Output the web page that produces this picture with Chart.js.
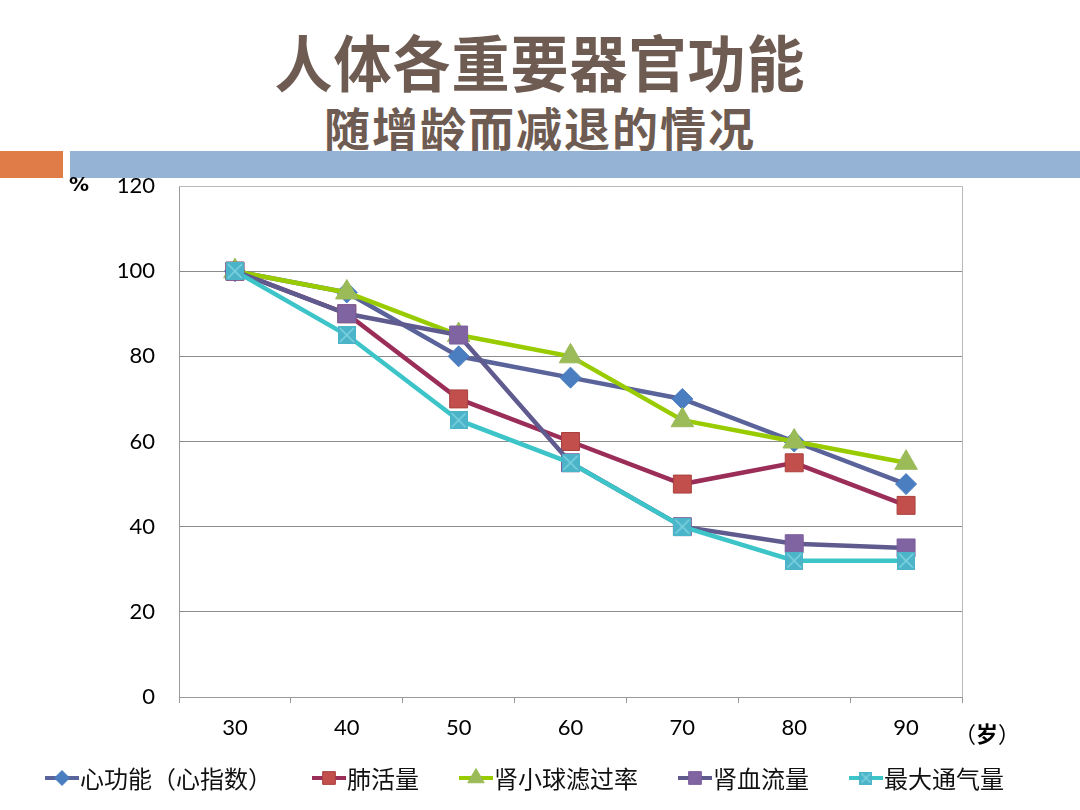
<!DOCTYPE html>
<html>
<head>
<meta charset="utf-8">
<script src="https://cdn.jsdelivr.net/npm/chart.js@4.4.1/dist/chart.umd.min.js"></script>
<style>
  body { margin: 0; background: #fff; width: 1080px; height: 810px; overflow: hidden; position: relative;
         font-family: "Noto Sans CJK SC", sans-serif; }
  .title { position: absolute; left: 0; width: 1080px; text-align: center; font-weight: bold; color: #6e5c53; }
  #t1 { top: 25px; font-size: 58px; line-height: 70px; letter-spacing: 1px; transform: scaleY(1.06); }
  #t2 { top: 98px; font-size: 46px; line-height: 56px; letter-spacing: 2px; }
  #barOrange { position: absolute; left: 0; top: 151px; width: 63px; height: 27px; background: #e07c47; }
  #barBlue { position: absolute; left: 70px; top: 151px; width: 1010px; height: 27px; background: #95b3d5; }
  #wrap { position: absolute; left: 0; top: 0; width: 1080px; height: 810px; }
</style>
</head>
<body>
<div class="title" id="t1">人体各重要器官功能</div>
<div class="title" id="t2">随增龄而减退的情况</div>
<div id="barOrange"></div>
<div id="barBlue"></div>
<div id="wrap"><canvas id="organChart" width="1080" height="810"></canvas></div>
<script>
// ages (x categories) and the % of function left
const ages = ['30', '40', '50', '60', '70', '80', '90'];
const seriesNames = ['心功能（心指数）', '肺活量', '肾小球滤过率', '肾血流量', '最大通气量'];
const heart     = [100, 95, 80, 75, 70, 60, 50];
const lung      = [100, 90, 70, 60, 50, 55, 45];
const glomer    = [100, 95, 85, 80, 65, 60, 55];
const renalFlow = [100, 90, 85, 55, 40, 36, 35];
const maxVent   = [100, 85, 65, 55, 40, 32, 32];

// cyan square with a light X, like the office-style marker
function crossSquare(size, fill, cross) {
  const c = document.createElement('canvas');
  c.width = size; c.height = size;
  const g = c.getContext('2d');
  g.fillStyle = fill;
  g.fillRect(0, 0, size, size);
  g.strokeStyle = cross;
  g.lineWidth = 1.5;
  g.beginPath();
  g.moveTo(2, 2); g.lineTo(size - 2, size - 2);
  g.moveTo(size - 2, 2); g.lineTo(2, size - 2);
  g.stroke();
  return c;
}
const ventMarker = crossSquare(18, '#4bb4c8', '#7fd3e0');
const ventMarkerSmall = crossSquare(13, '#4bb4c8', '#7fd3e0');

const styles = [
  { line: '#5a639a', fill: '#4a7ec0', border: '#4a7ec0', point: 'rectRot', r: 10.5, lr: 7.5 },
  { line: '#9b2d59', fill: '#c24f4c', border: '#a8403e', point: 'rect', r: 12.7, lr: 9 },
  { line: '#99cc00', fill: '#9bbb59', border: '#9bbb59', point: 'triangle', r: 13, lr: 9.5 },
  { line: '#5f5b8f', fill: '#8064a2', border: '#7a5d9c', point: 'rect', r: 12.7, lr: 9 },
  { line: '#3cc4c8', fill: '#4bb4c8', border: '#4bb4c8', point: ventMarker, r: 9, lr: 7, small: ventMarkerSmall }
];
const values = [heart, lung, glomer, renalFlow, maxVent];

const datasets = values.map((v, i) => ({
  label: seriesNames[i],
  data: v,
  borderColor: styles[i].line,
  borderWidth: 4.5,
  pointStyle: styles[i].point,
  pointRadius: styles[i].r,
  pointBackgroundColor: styles[i].fill,
  pointBorderColor: styles[i].border,
  pointBorderWidth: 1,
  tension: 0,
  order: values.length - i   // later series drawn on top
}));

// draws the plot border, the unit labels and the line+marker legend
const extras = {
  id: 'extras',
  beforeDatasetsDraw(chart) {
    const { ctx, chartArea: a } = chart;
    ctx.save();
    ctx.strokeStyle = '#b8b8b8';
    ctx.lineWidth = 1;
    ctx.beginPath();
    ctx.moveTo(a.left, a.top + 0.5);
    ctx.lineTo(a.right + 0.5, a.top + 0.5);
    ctx.lineTo(a.right + 0.5, a.bottom);
    ctx.stroke();
    ctx.restore();
  },
  afterDraw(chart) {
    const ctx = chart.ctx;
    ctx.save();
    ctx.fillStyle = '#000';
    ctx.font = 'bold 20px "DejaVu Sans", sans-serif';
    ctx.textBaseline = 'middle';
    ctx.textAlign = 'left';
    ctx.fillText('%', 69, 186);
    ctx.font = '22px "Noto Sans CJK SC", sans-serif';
    ctx.fillText('（', 954, 734);
    ctx.font = 'bold 22px "Noto Sans CJK SC", sans-serif';
    ctx.fillText('岁', 976, 734);
    ctx.font = '22px "Noto Sans CJK SC", sans-serif';
    ctx.fillText('）', 998, 734);

    // legend
    let x = 45;
    const y = 778;
    ctx.font = '24px "Noto Sans CJK SC", sans-serif';
    chart.data.datasets.forEach((ds, i) => {
      const s = styles[i];
      ctx.strokeStyle = s.line;
      ctx.lineWidth = 4;
      ctx.beginPath();
      ctx.moveTo(x, y);
      ctx.lineTo(x + 34, y);
      ctx.stroke();
      const cx = x + 17;
      ctx.fillStyle = s.fill;
      ctx.strokeStyle = s.border;
      ctx.lineWidth = 1;
      Chart.helpers.drawPoint(ctx, {
        pointStyle: s.small || s.point,
        radius: s.lr,
        rotation: 0,
        borderWidth: 1
      }, cx, y);
      ctx.fillStyle = '#111';
      ctx.textAlign = 'left';
      ctx.fillText(ds.label, x + 35, y + 1);
      x += 35 + ctx.measureText(ds.label).width + 40;
    });
    ctx.restore();
  }
};

const ctx = document.getElementById('organChart').getContext('2d');
const organChart = new Chart(ctx, {
  type: 'line',
  data: { labels: ages, datasets: datasets },
  options: {
    responsive: false,
    animation: false,
    events: [],
    layout: { padding: { top: 186, right: 118, left: 0, bottom: 0 } },
    scales: {
      x: {
        offset: true,
        afterFit(scale) { scale.height = 113; },
        grid: {
          offset: true,
          drawOnChartArea: false,
          drawTicks: true,
          tickLength: 6,
          color: '#999'
        },
        border: { color: '#999' },
        ticks: {
          color: '#000',
          padding: 12,
          font: { family: 'Lato, "DejaVu Sans", sans-serif', size: 22 }
        }
      },
      y: {
        min: 0,
        max: 120,
        afterFit(scale) { scale.width = 179; },
        ticks: {
          stepSize: 20,
          color: '#000',
          padding: 24,
          font: { family: 'Lato, "DejaVu Sans", sans-serif', size: 22 }
        },
        grid: { color: '#8c8c8c', drawTicks: false },
        border: { color: '#999' }
      }
    },
    plugins: {
      legend: { display: false },
      tooltip: { enabled: false }
    }
  },
  plugins: [extras]
});
</script>
</body>
</html>
